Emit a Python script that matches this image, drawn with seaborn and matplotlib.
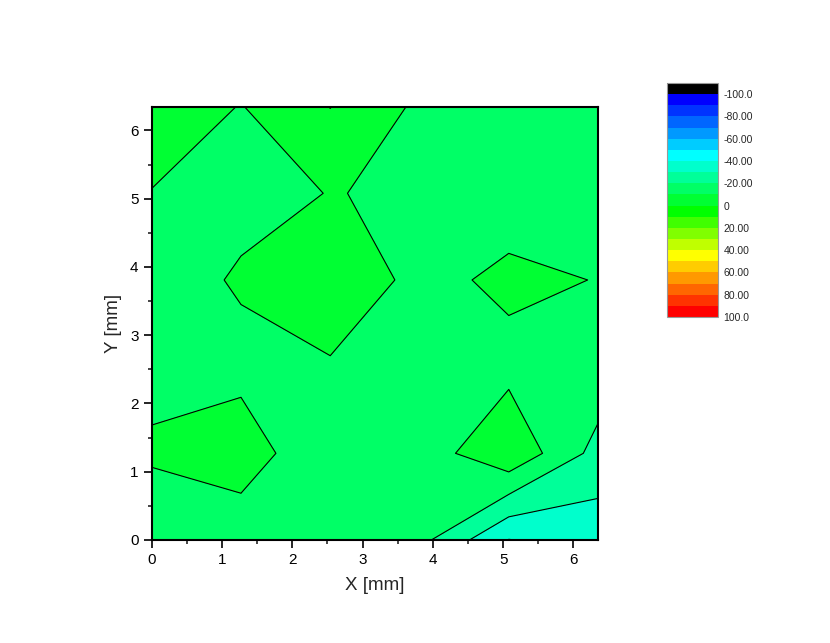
import numpy as np
import matplotlib
matplotlib.use("Agg")
import matplotlib.pyplot as plt
import seaborn as sns

# grid nodes (mm)
x_mm = [0.0, 1.27, 2.54, 3.81, 5.08, 6.35]
y_mm = [0.0, 1.27, 2.54, 3.81, 5.08, 6.35]

# values at nodes, one row per y
z_y0 = [-15.2, -15.8, -16.0, -16.9, -40.3, -35.9]
z_y1 = [-9.0, -5.05, -17.7, -15.6, -1.72, -23.6]
z_y2 = [-12.07, -12.71, -11.11, -13.0, -12.95, -13.2]
z_y3 = [-14.6, -8.93, -2.31, -12.93, -7.95, -10.27]
z_y4 = [-10.41, -12.8, -9.76, -11.0, -14.63, -13.0]
z_y5 = [-2.96, -10.41, 0.2, -11.8, -13.0, -14.0]

levels = list(range(-110, 101, 10))
level_colors = ["#000000",
                "#0000FF", "#0033FF", "#0066FF", "#0099FF", "#00CCFF",
                "#00FFFF", "#00FFCC", "#00FF99", "#00FF66", "#00FF33",
                "#00FF00", "#40FF00", "#80FF00", "#C0FF00", "#FFFF00",
                "#FFCC00", "#FF9900", "#FF6600", "#FF3300", "#FF0000"]
cbar_ticks = [-100, -80, -60, -40, -20, 0, 20, 40, 60, 80, 100]
cbar_labels = ["-100.0", "-80.00", "-60.00", "-40.00", "-20.00", "0",
               "20.00", "40.00", "60.00", "80.00", "100.0"]

sns.set_theme(style="ticks")
plt.rcParams['font.family'] = ['Liberation Sans', 'DejaVu Sans']

Z = np.array([z_y0, z_y1, z_y2, z_y3, z_y4, z_y5])
X, Y = np.meshgrid(x_mm, y_mm)

fig = plt.figure(figsize=(8.3, 6.43), dpi=100)
ax = fig.add_axes([0.1828, 0.1602, 0.5377, 0.674])
cs = ax.contourf(X, Y, Z, levels=levels, colors=level_colors)
ax.contour(X, Y, Z, levels=levels, colors="black", linewidths=0.8,
           linestyles="solid")

ax.set_xlim(0, 6.35)
ax.set_ylim(0, 6.35)
ax.set_xticks(range(0, 7))
ax.set_yticks(range(0, 7))
ax.set_xticks(np.arange(0.5, 6.4, 1.0), minor=True)
ax.set_yticks(np.arange(0.5, 6.4, 1.0), minor=True)
ax.tick_params(which="major", direction="out", length=6, width=1.2,
               labelsize=11, color="black", labelcolor="black",
               top=False, right=False)
ax.tick_params(which="minor", direction="out", length=3, width=1.2,
               top=False, right=False)
for sp in ax.spines.values():
    sp.set_linewidth(1.5)
    sp.set_color("black")
ax.set_xlabel("X [mm]", fontsize=13.5, labelpad=7)
ax.set_ylabel("Y [mm]", fontsize=13.5, labelpad=6)

cax = fig.add_axes([0.8036, 0.507, 0.0614, 0.364])
cb = fig.colorbar(cs, cax=cax, ticks=cbar_ticks)
cax.invert_yaxis()
cb.set_ticklabels(cbar_labels)
cax.tick_params(length=0, labelsize=7.5, pad=4)
cb.outline.set_edgecolor("#999999")
cb.outline.set_linewidth(0.8)

fig.savefig("out.png", dpi=100)
